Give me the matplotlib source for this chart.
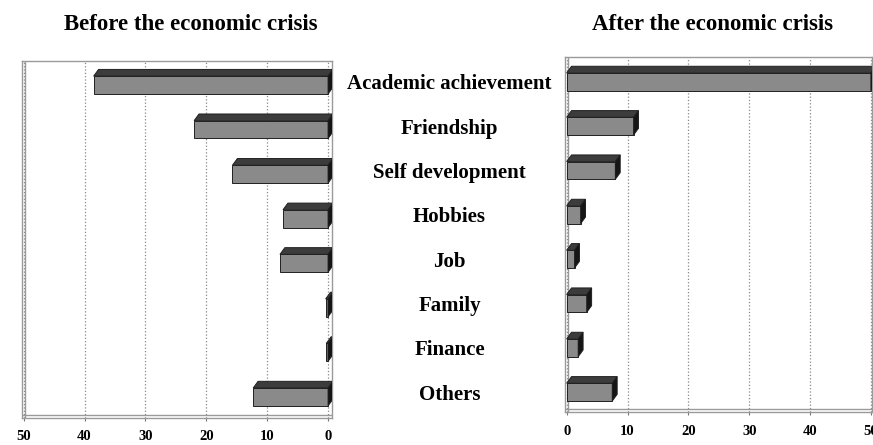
import numpy as np
import matplotlib
matplotlib.use('Agg')
import matplotlib.pyplot as plt
from matplotlib.patches import Polygon

categories = ['Academic achievement', 'Friendship', 'Self development', 'Hobbies',
              'Job', 'Family', 'Finance', 'Others']
before = [38.5, 22.0, 15.7, 7.4, 7.9, 0.4, 0.3, 12.3]
after = [50.0, 11.0, 8.0, 2.3, 1.3, 3.3, 1.9, 7.5]
ticks = [0, 10, 20, 30, 40, 50]

plt.rcParams['font.family'] = ['Liberation Serif', 'DejaVu Serif']
plt.rcParams['font.weight'] = 'bold'

FRONT = '#8a8a8a'
TOP = '#3c3c3c'
SIDE = '#151515'
BAR_H = 0.40


def draw_bars(ax, values, dx, dy):
    # dx, dy: depth of the fake 3d box in data units (pixel right / pixel up)
    y = np.arange(len(values))
    ax.barh(y, values, height=BAR_H, color=FRONT, edgecolor='#202020', linewidth=0.7, zorder=3)
    for yi, v in zip(y, values):
        top = yi - BAR_H / 2
        bot = yi + BAR_H / 2
        topface = [(0, top), (v, top), (v + dx, top - dy), (0 + dx, top - dy)]
        ax.add_patch(Polygon(topface, closed=True, fc=TOP, ec='#202020', lw=0.7, zorder=3))
        end = 0 if dx < 0 else v
        sideface = [(end, top), (end + dx, top - dy), (end + dx, bot - dy), (end, bot)]
        ax.add_patch(Polygon(sideface, closed=True, fc=SIDE, ec='#202020', lw=0.7, zorder=4))


def style(ax):
    ax.set_xticks(ticks)
    ax.set_xticklabels([str(t) for t in ticks], fontsize=10.5, fontweight='bold')
    ax.tick_params(axis='x', length=2, pad=7, color='#777777')
    ax.xaxis.grid(True, linestyle=':', color='#888888', linewidth=0.9)
    ax.set_axisbelow(True)
    for s in ax.spines.values():
        s.set_color('#9a9a9a')
        s.set_linewidth(1.0)
    # second line of the floor, like the 3d base
    ax.axhline(ax.get_ylim()[0] - 0.06, color='#9a9a9a', lw=1.0, zorder=2)


fig = plt.figure(figsize=(8.73, 4.45), dpi=100)
ax1 = fig.add_axes([0.025, 0.061, 0.355, 0.802])
ax2 = fig.add_axes([0.647, 0.074, 0.352, 0.798])

# left panel is mirrored: 0 on the right
ax1.set_xlim(50.3, -0.6)
ax1.set_ylim(7.47, -0.54)
draw_bars(ax1, before, dx=-0.8, dy=0.15)
ax1.set_yticks([])
style(ax1)
ax1.axvline(49.8, color='#9a9a9a', lw=1.0, zorder=2)

ax2.set_xlim(-0.3, 50.2)
ax2.set_ylim(7.45, -0.56)
draw_bars(ax2, after, dx=0.8, dy=0.15)
style(ax2)
ax2.axvline(0.2, color='#9a9a9a', lw=1.0, zorder=2)
ax2.set_yticks(range(len(categories)))
ax2.set_yticklabels(categories, ha='center', fontsize=15, fontweight='bold')
ax2.tick_params(axis='y', length=0, pad=83)

fig.text(0.219, 0.945, 'Before the economic crisis', ha='center', va='center',
         fontsize=16.5, fontweight='bold')
fig.text(0.816, 0.945, 'After the economic crisis', ha='center', va='center',
         fontsize=16.5, fontweight='bold')

plt.savefig('out.png', dpi=100)
